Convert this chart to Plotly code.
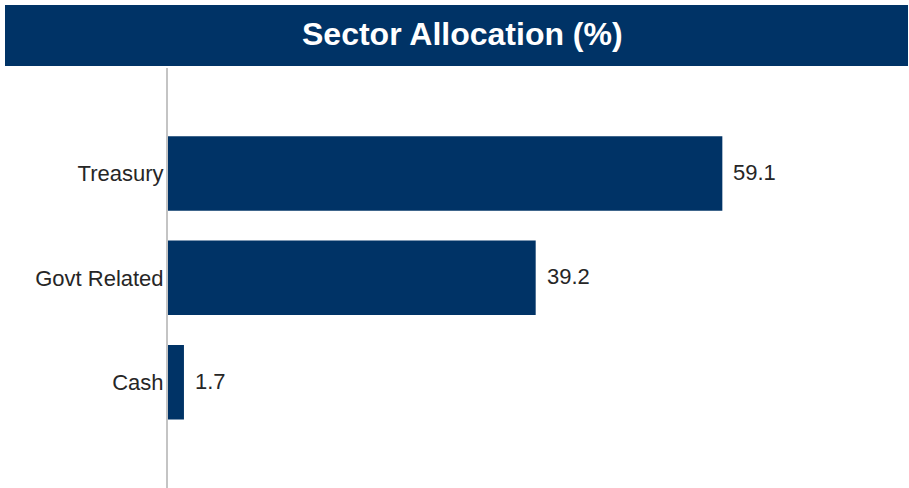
import plotly.graph_objects as go

categories = ["Treasury", "Govt Related", "Cash"]
values = [59.1, 39.2, 1.7]
title_text = "Sector Allocation (%)"

NAVY = "#003366"
TEXT = "#262626"
FONT = "Liberation Sans, Arial, sans-serif"

W, H = 909, 488
ML, MR, MT, MB = 168, 0, 68, 0
PW = W - ML - MR
PH = H - MT - MB

fig = go.Figure(
    go.Bar(
        x=values,
        y=categories,
        orientation="h",
        marker=dict(color=NAVY, line=dict(width=0)),
        width=0.713,
        hoverinfo="skip",
    )
)

for v, c in zip(values, categories):
    fig.add_annotation(
        x=v, y=c, text=f"{v:.1f}", showarrow=False,
        xanchor="left", yanchor="middle", xshift=9, yshift=1,
        font=dict(family=FONT, size=22, color=TEXT),
    )

# title banner
fig.add_shape(
    type="rect", xref="paper", yref="paper",
    x0=(5 - ML) / PW, x1=(908 - ML) / PW,
    y0=1 + (MT - 66) / PH, y1=1 + (MT - 5) / PH,
    fillcolor=NAVY, line=dict(width=0), layer="below",
)
fig.add_annotation(
    xref="paper", yref="paper",
    x=(462 - ML) / PW, y=1 + (MT - 34) / PH,
    xanchor="center", yanchor="middle", showarrow=False,
    text=title_text,
    font=dict(family=FONT, size=32, color="white", weight="bold"),
)

fig.update_layout(
    width=W, height=H,
    margin=dict(l=ML, r=MR, t=MT, b=MB, pad=0),
    paper_bgcolor="white", plot_bgcolor="white",
    showlegend=False,
    xaxis=dict(range=[0, 79], visible=False, fixedrange=True),
    yaxis=dict(
        type="category",
        range=[3.013, -1.01],
        showline=True, linecolor="#c4c4c4", linewidth=2,
        ticks="", showgrid=False, zeroline=False,
        ticklabelstandoff=-2,
        tickfont=dict(family=FONT, size=22, color=TEXT),
        fixedrange=True,
    ),
)

fig.write_html(
    "out.html",
    config={"displayModeBar": False},
    post_script="document.body.style.margin='0px';",
)
